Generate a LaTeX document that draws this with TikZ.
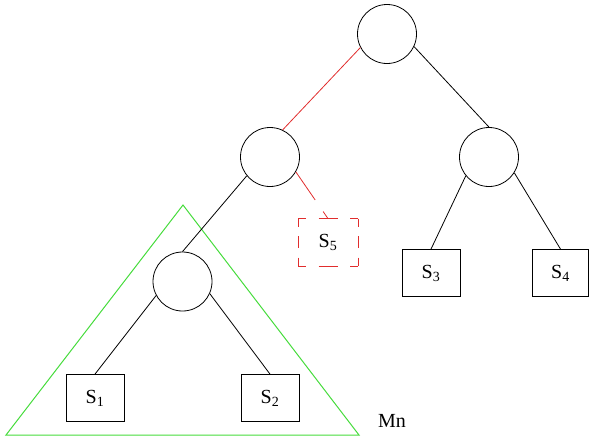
\documentclass[tikz,border=0pt]{standalone}
\usepackage{fontspec}
\setmainfont{Liberation Serif}
\definecolor{lred}{RGB}{225,45,45}
\definecolor{lgreen}{RGB}{70,220,60}
\begin{document}
\begin{tikzpicture}[x=1pt,y=-1pt,line width=0.8pt,
  inner/.style={circle,draw,minimum size=59pt,inner sep=0pt},
  leaf/.style={draw,minimum width=58pt,minimum height=47pt,inner sep=0pt,font=\fontsize{20}{24}\selectfont},
  ghost/.style={leaf,draw=none},
  hdash/.style={lred,dash pattern=on 8pt off 12.5pt on 19pt off 12.5pt on 8pt off 60pt},
  vdash/.style={lred,dash pattern=on 8pt off 9.5pt on 12pt off 9.5pt on 8pt off 60pt}]
\useasboundingbox (0,0) rectangle (589,440);
\node[inner] (root) at (387,34) {};
\node[inner] (lm) at (270,157) {};
\node[inner] (rm) at (489,157) {};
\node[inner] (ll) at (182.5,281.5) {};
\node[ghost,minimum width=59pt] (s5) at (328,242.5) {S\textsubscript{5}};
\draw[hdash] (s5.north west) -- (s5.north east);
\draw[hdash] (s5.south west) -- (s5.south east);
\draw[vdash] (s5.north west) -- (s5.south west);
\draw[vdash] (s5.north east) -- (s5.south east);
\node[leaf] (s3) at (431,273) {S\textsubscript{3}};
\node[leaf,minimum width=56pt] (s4) at (560.5,273) {S\textsubscript{4}};
\node[leaf] (s1) at (95,398) {S\textsubscript{1}};
\node[leaf] (s2) at (270,398) {S\textsubscript{2}};
\coordinate (ta) at (183,205);
\coordinate (tr) at (359,435);
\coordinate (tl) at (6,435);
\draw[lgreen,line width=1pt] (ta) -- (tr) -- (tl) -- cycle;
\node[font=\fontsize{20}{24}\selectfont] (mn) at (392,421) {Mn};
\draw[lred] (root.207) -- (lm.65);
\draw (root.-25) -- (rm.north);
\draw (lm.219) -- (ll.north);
\draw[lred,dash pattern=on 34pt off 14pt] (lm.-30) -- (s5.north);
\draw (rm.219) -- (s3.north);
\draw (rm.-32) -- (s4.north);
\draw (ll.208) -- (s1.north);
\draw (ll.-24) -- (s2.north);
\end{tikzpicture}
\end{document}
